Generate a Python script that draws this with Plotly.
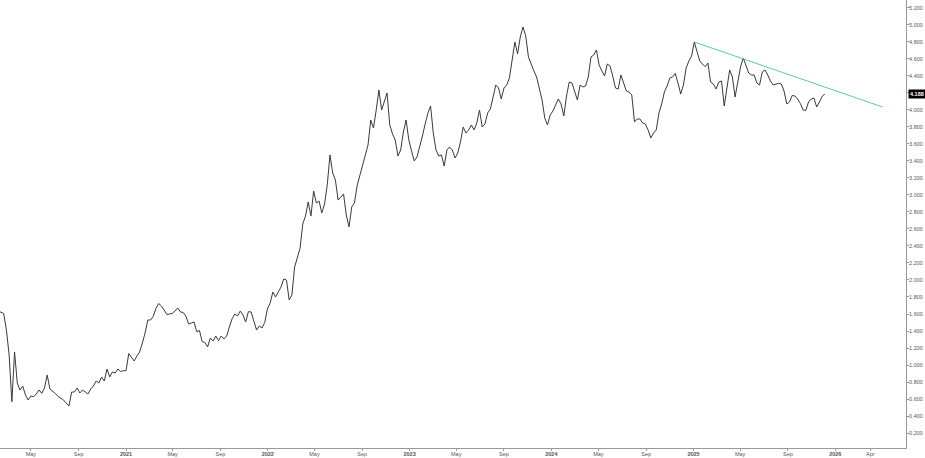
import pandas as pd
import plotly.graph_objects as go

# Weekly closes
start_date = "2020-02-07"
prices = [
    1.635, 1.624, 1.606, 1.412, 1.118, 0.568, 1.153, 0.788, 0.706, 0.753,
    0.647, 0.588, 0.635, 0.627, 0.659, 0.706, 0.667, 0.729, 0.882, 0.718,
    0.694, 0.665, 0.629, 0.612, 0.588, 0.553, 0.518, 0.682, 0.682, 0.729,
    0.671, 0.706, 0.682, 0.659, 0.718, 0.753, 0.812, 0.788, 0.859, 0.812,
    0.953, 0.859, 0.918, 0.906, 0.953, 0.924, 0.933, 0.933, 1.135, 1.094,
    1.047, 1.106, 1.153, 1.259, 1.376, 1.529, 1.529, 1.571, 1.665, 1.724,
    1.694, 1.647, 1.594, 1.600, 1.606, 1.635, 1.671, 1.624, 1.618, 1.576,
    1.482, 1.494, 1.506, 1.392, 1.406, 1.276, 1.265, 1.212, 1.318, 1.282,
    1.341, 1.286, 1.341, 1.306, 1.341, 1.447, 1.544, 1.600, 1.576, 1.635,
    1.588, 1.506, 1.627, 1.624, 1.518, 1.412, 1.459, 1.435, 1.500, 1.659,
    1.729, 1.859, 1.800, 1.853, 1.918, 2.012, 2.000, 1.765, 1.824, 2.153,
    2.271, 2.373, 2.659, 2.753, 2.918, 2.753, 3.047, 2.906, 2.929, 2.788,
    2.894, 3.118, 3.471, 3.259, 3.176, 2.941, 2.976, 3.012, 2.765, 2.624,
    2.859, 2.906, 3.112, 3.224, 3.353, 3.447, 3.588, 3.882, 3.788, 4.000,
    4.235, 4.000, 4.094, 4.200, 3.824, 3.718, 3.647, 3.459, 3.529, 3.741,
    3.882, 3.647, 3.518, 3.400, 3.447, 3.565, 3.694, 3.835, 3.961, 4.047,
    3.729, 3.529, 3.459, 3.471, 3.341, 3.529, 3.565, 3.529, 3.435, 3.494,
    3.624, 3.800, 3.729, 3.765, 3.824, 3.765, 3.847, 4.000, 3.800, 3.835,
    3.965, 4.012, 4.165, 4.294, 4.259, 4.129, 4.259, 4.294, 4.376, 4.565,
    4.800, 4.659, 4.859, 4.976, 4.871, 4.624, 4.529, 4.459, 4.388, 4.259,
    4.118, 3.906, 3.824, 3.941, 3.988, 4.059, 4.129, 4.071, 3.929, 4.165,
    4.329, 4.318, 4.212, 4.118, 4.294, 4.271, 4.282, 4.388, 4.624, 4.647,
    4.706, 4.529, 4.459, 4.400, 4.541, 4.518, 4.400, 4.259, 4.247, 4.412,
    4.318, 4.224, 4.212, 4.176, 3.859, 3.894, 3.894, 3.847, 3.835, 3.765,
    3.671, 3.729, 3.765, 3.965, 4.071, 4.212, 4.282, 4.376, 4.388, 4.429,
    4.318, 4.188, 4.294, 4.494, 4.576, 4.635, 4.800, 4.671, 4.576, 4.541,
    4.509, 4.553, 4.329, 4.306, 4.247, 4.329, 4.341, 4.047, 4.275, 4.471,
    4.388, 4.153, 4.329, 4.506, 4.612, 4.518, 4.435, 4.412, 4.412, 4.318,
    4.294, 4.447, 4.471, 4.412, 4.341, 4.294, 4.306, 4.314, 4.306, 4.224,
    4.071, 4.094, 4.171, 4.165, 4.129, 4.076, 4.000, 3.994, 4.094, 4.129,
    4.141, 4.035, 4.094, 4.159, 4.188,
]
dates = pd.date_range(start_date, periods=len(prices), freq="7D")

# Trendline endpoints
trend_dates = ["2025-01-03", "2026-05-03"]
trend_values = [4.800, 4.035]

last_price = 4.188

# Axis ticks
x_tick_dates = ["2020-05-01", "2020-09-01", "2021-01-01", "2021-05-01", "2021-09-01",
                "2022-01-01", "2022-05-01", "2022-09-01", "2023-01-01", "2023-05-01",
                "2023-09-01", "2024-01-01", "2024-05-01", "2024-09-01", "2025-01-01",
                "2025-05-01", "2025-09-01", "2026-01-01", "2026-04-01"]
x_tick_labels = ["May", "Sep", "<b>2021</b>", "May", "Sep", "<b>2022</b>", "May", "Sep",
                 "<b>2023</b>", "May", "Sep", "<b>2024</b>", "May", "Sep", "<b>2025</b>",
                 "May", "Sep", "<b>2026</b>", "Apr"]
y_ticks = [0.2, 0.4, 0.6, 0.8, 1.0, 1.2, 1.4, 1.6, 1.8, 2.0, 2.2, 2.4, 2.6, 2.8, 3.0,
           3.2, 3.4, 3.6, 3.8, 4.0, 4.2, 4.4, 4.6, 4.8, 5.0, 5.2]

FONT = "Liberation Sans"

fig = go.Figure()
fig.add_trace(go.Scatter(x=dates, y=prices, mode="lines",
                         line=dict(color="#3a3a3a", width=1), hoverinfo="x+y"))
fig.add_trace(go.Scatter(x=trend_dates, y=trend_values, mode="lines",
                         line=dict(color="#5cc9ad", width=1)))

fig.add_annotation(xref="paper", x=1, y=last_price, yref="y", text="<b>4.188</b>",
                   showarrow=False, xanchor="left", yanchor="middle",
                   bgcolor="#000000", font=dict(color="#ffffff", size=5.5, family=FONT),
                   borderpad=1, xshift=2)

fig.update_layout(
    width=925, height=458,
    margin=dict(l=0, r=19, t=0, b=10, autoexpand=False),
    paper_bgcolor="#ffffff", plot_bgcolor="#ffffff",
    showlegend=False,
    font=dict(family=FONT, size=5.5, color="#555555"),
)
fig.update_xaxes(
    type="date",
    range=["2020-02-11 12:00", "2026-07-02"],
    tickvals=x_tick_dates, ticktext=x_tick_labels,
    showgrid=False, zeroline=False,
    showline=True, linecolor="#999999", linewidth=1,
    ticks="outside", ticklen=2, tickcolor="#999999",
    tickfont=dict(size=5.5, color="#555555", family=FONT),
    ticklabelstandoff=-2,
    automargin=False,
)
fig.update_yaxes(
    side="right",
    range=[0.0235, 5.294],
    tickvals=y_ticks, tickformat=".3f",
    showgrid=False, zeroline=False,
    showline=True, linecolor="#999999", linewidth=1,
    ticks="outside", ticklen=2, tickcolor="#999999",
    tickfont=dict(size=5.5, color="#555555", family=FONT),
    ticklabelstandoff=-1,
    automargin=False,
)

fig.write_html(
    "out.html",
    config={"displayModeBar": False},
    post_script="document.body.style.margin='0';document.body.style.overflow='hidden';",
)
